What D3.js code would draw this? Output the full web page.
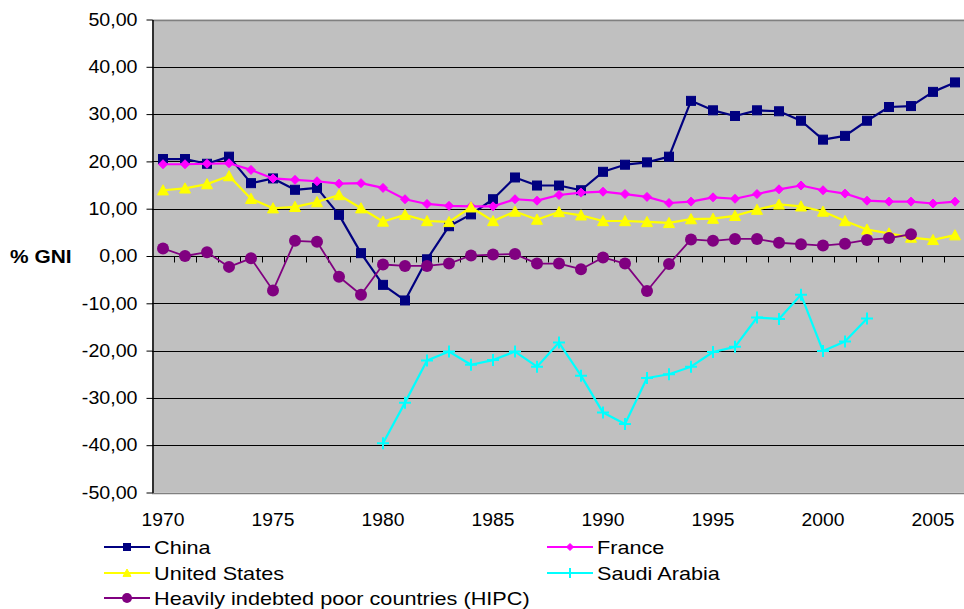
<!DOCTYPE html>
<html>
<head>
<meta charset="utf-8">
<script src="https://cdn.jsdelivr.net/npm/d3@7"></script>
<style>
  html, body { margin: 0; padding: 0; background: #ffffff; }
  svg { display: block; font-family: "Liberation Sans", Arial, sans-serif; }
</style>
</head>
<body>
<svg id="chart" width="964" height="609"></svg>
<script>
// Years on the category axis
const years = d3.range(1970, 2007);
const yearLabels = [1970, 1975, 1980, 1985, 1990, 1995, 2000, 2005];
const yTicks = [-50, -40, -30, -20, -10, 0, 10, 20, 30, 40, 50];

// Series values, % of GNI (null = no data)
const china = [20.5, 20.5, 19.5, 21.0, 15.4, 16.4, 14.0, 14.4, 8.7, 0.6,
  -6.1, -9.4, -0.7, 6.3, 8.8, 12.0, 16.6, 14.9, 14.9, 13.9,
  17.8, 19.3, 19.8, 21.0, 32.8, 30.8, 29.6, 30.8, 30.6, 28.6,
  24.6, 25.4, 28.6, 31.5, 31.7, 34.7, 36.7];
const france = [19.4, 19.4, 19.5, 19.6, 18.2, 16.4, 16.1, 15.8, 15.3, 15.4,
  14.4, 12.0, 11.0, 10.6, 10.5, 10.5, 12.0, 11.7, 12.9, 13.4,
  13.6, 13.1, 12.5, 11.2, 11.5, 12.4, 12.1, 13.1, 14.1, 14.9,
  13.9, 13.2, 11.7, 11.5, 11.5, 11.1, 11.5];
const unitedStates = [13.9, 14.3, 15.2, 16.9, 12.1, 10.1, 10.4, 11.4, 12.9, 10.1,
  7.3, 8.7, 7.4, 7.2, 10.3, 7.4, 9.4, 7.7, 9.3, 8.6,
  7.4, 7.4, 7.2, 7.0, 7.8, 7.9, 8.5, 9.8, 10.9, 10.5,
  9.4, 7.4, 5.6, 4.8, 3.9, 3.4, 4.4];
const saudiArabia = [null, null, null, null, null, null, null, null, null, null,
  -39.6, -31.0, -22.1, -20.2, -23.0, -22.0, -20.2, -23.4, -18.3, -25.3,
  -33.1, -35.5, -25.8, -25.0, -23.4, -20.3, -19.2, -13.0, -13.3, -8.2,
  -20.1, -18.1, -13.2, null, null, null, null];
const hipc = [1.6, 0.0, 0.8, -2.3, -0.5, -7.3, 3.2, 3.0, -4.4, -8.2,
  -1.8, -2.1, -2.1, -1.6, 0.1, 0.3, 0.4, -1.6, -1.6, -2.8,
  -0.3, -1.6, -7.4, -1.7, 3.5, 3.2, 3.6, 3.6, 2.8, 2.5,
  2.2, 2.6, 3.4, 3.8, 4.6, null, null];

const seriesNames = ["China", "France", "United States", "Saudi Arabia",
  "Heavily indebted poor countries (HIPC)"];
const seriesValues = [china, france, unitedStates, saudiArabia, hipc];
const seriesColors = ["#000080", "#FF00FF", "#FFFF00", "#00FFFF", "#800080"];
const seriesMarkers = ["square", "diamond", "triangle", "cross", "circle"];

const svg = d3.select("#chart");
const plotLeft = 152, plotRight = 966, plotTop = 19.5, plotBottom = 492.5;

const x = d3.scaleBand().domain(years).range([plotLeft, plotRight]);
const y = d3.scaleLinear().domain([-50, 50]).range([plotBottom, plotTop]);
const cx = yr => x(yr) + x.bandwidth() / 2;

const locale = d3.formatLocale({ decimal: ",", thousands: ".", grouping: [3],
  currency: ["", ""], minus: "-" });
const fmt = locale.format(".2f");

// Widen glyphs a little, Excel-style rendering
function stretch(sel, f) {
  sel.each(function () {
    const len = this.getComputedTextLength();
    d3.select(this).attr("textLength", len * f).attr("lengthAdjust", "spacingAndGlyphs");
  });
}

// Plot area
svg.append("rect")
  .attr("x", plotLeft).attr("y", plotTop)
  .attr("width", plotRight - plotLeft).attr("height", plotBottom - plotTop)
  .attr("fill", "#C0C0C0");

// Gridlines
svg.append("g").selectAll("line")
  .data(yTicks.filter(v => v > -50 && v < 50))
  .join("line")
  .attr("x1", plotLeft).attr("x2", plotRight)
  .attr("y1", d => Math.round(y(d)) + 0.5).attr("y2", d => Math.round(y(d)) + 0.5)
  .attr("stroke", "#000").attr("stroke-width", 1);

// Plot border top/bottom
[plotTop, plotBottom].forEach(v => {
  svg.append("line")
    .attr("x1", plotLeft).attr("x2", plotRight)
    .attr("y1", Math.round(v) + 0.5).attr("y2", Math.round(v) + 0.5)
    .attr("stroke", "#808080").attr("stroke-width", 1.5);
});

// Category ticks on the zero line
const zeroY = Math.round(y(0)) + 0.5;
svg.append("g").selectAll("line")
  .data(years.slice(1))
  .join("line")
  .attr("x1", d => Math.round(x(d)) + 0.5).attr("x2", d => Math.round(x(d)) + 0.5)
  .attr("y1", zeroY).attr("y2", zeroY + 6)
  .attr("stroke", "#000").attr("stroke-width", 1);

// Y axis
const yAxis = svg.append("g")
  .attr("transform", `translate(${plotLeft + 0.5},0)`)
  .call(d3.axisLeft(y).tickValues(yTicks).tickFormat(fmt)
    .tickSize(6).tickSizeOuter(0).tickPadding(9));
yAxis.select(".domain").attr("stroke", "#000").attr("stroke-width", 1.5);
yAxis.selectAll(".tick line").attr("stroke", "#000");
yAxis.selectAll(".tick text")
  .attr("font-family", "'Liberation Sans', Arial, sans-serif")
  .attr("font-size", 18).attr("fill", "#000")
  .call(stretch, 1.09);

// X labels (every five years, at the bottom of the plot)
const xAxis = svg.append("g")
  .attr("transform", `translate(0,${plotBottom})`)
  .call(d3.axisBottom(x).tickValues(yearLabels).tickSize(0).tickPadding(21));
xAxis.select(".domain").remove();
xAxis.selectAll(".tick text")
  .attr("font-family", "'Liberation Sans', Arial, sans-serif")
  .attr("font-size", 18).attr("fill", "#000")
  .call(stretch, 1.07);

// Y title
svg.append("text")
  .attr("x", 10).attr("y", y(0)).attr("dy", "0.35em")
  .attr("font-size", 19).attr("font-weight", "bold")
  .text("% GNI")
  .call(stretch, 1.1);

// Marker drawing
function marker(g, type, color, px, py, s) {
  if (type === "square") {
    g.append("rect").attr("x", px - s / 2).attr("y", py - s / 2)
      .attr("width", s).attr("height", s).attr("fill", color)
      .attr("stroke", color).attr("stroke-width", 1);
  } else if (type === "diamond") {
    const h = s / 2;
    g.append("path").attr("d", `M${px},${py - h}L${px + h},${py}L${px},${py + h}L${px - h},${py}Z`)
      .attr("fill", color).attr("stroke", color).attr("stroke-width", 1);
  } else if (type === "triangle") {
    const h = s / 2;
    g.append("path").attr("d", `M${px},${py - h}L${px + h},${py + h * 0.85}L${px - h},${py + h * 0.85}Z`)
      .attr("fill", color).attr("stroke", color).attr("stroke-width", 1);
  } else if (type === "cross") {
    const h = s / 2;
    g.append("path").attr("d", `M${px - h},${py}L${px + h},${py}M${px},${py - h}L${px},${py + h}`)
      .attr("fill", "none").attr("stroke", color).attr("stroke-width", 2);
  } else if (type === "circle") {
    g.append("circle").attr("cx", px).attr("cy", py).attr("r", s / 2).attr("fill", color);
  }
}

const markerSize = { square: 9, diamond: 9, triangle: 11, cross: 12, circle: 12 };
const lineWidth = [2.2, 2.2, 2.2, 2.2, 1.8];

// Series
seriesValues.forEach((vals, i) => {
  const g = svg.append("g");
  const pts = years.map((yr, j) => ({ yr, v: vals[j] }));
  const line = d3.line()
    .defined(d => d.v !== null)
    .x(d => cx(d.yr)).y(d => y(d.v));
  g.append("path").datum(pts).attr("d", line)
    .attr("fill", "none").attr("stroke", seriesColors[i])
    .attr("stroke-width", lineWidth[i]).attr("stroke-linejoin", "round");
  pts.filter(d => d.v !== null).forEach(d => {
    marker(g, seriesMarkers[i], seriesColors[i], cx(d.yr), y(d.v), markerSize[seriesMarkers[i]]);
  });
});

// Legend
const legendX = [104, 104, 104, 547, 547];
const legendY = [547, 573, 598, 547, 573];
const legendOrder = [0, 2, 4, 1, 3];
const legendMarkerSize = { square: 7, diamond: 7, triangle: 8, cross: 10, circle: 10 };
legendOrder.forEach((si, k) => {
  const lx = legendX[k], ly = legendY[k];
  const g = svg.append("g");
  g.append("line").attr("x1", lx).attr("x2", lx + 46)
    .attr("y1", ly).attr("y2", ly)
    .attr("stroke", seriesColors[si]).attr("stroke-width", 2);
  marker(g, seriesMarkers[si], seriesColors[si], lx + 23, ly,
    legendMarkerSize[seriesMarkers[si]]);
  g.append("text").attr("x", lx + 50).attr("y", ly).attr("dy", "0.36em")
    .attr("font-size", 19).attr("fill", "#000")
    .text(seriesNames[si])
    .call(stretch, 1.14);
});
</script>
</body>
</html>
